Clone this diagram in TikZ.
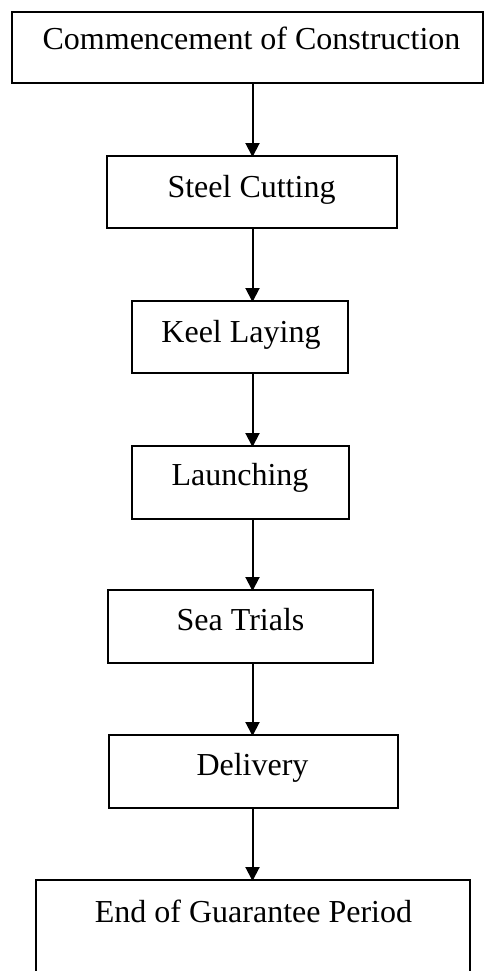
\documentclass[tikz,border=0pt]{standalone}
\usepackage{fontspec}
\setmainfont{Liberation Serif}
\usetikzlibrary{arrows.meta}

\tikzset{
  stagebox/.style={draw=black, line width=2pt, rectangle, inner sep=0pt, outer sep=0pt},
  openbox/.style={rectangle, inner sep=0pt, outer sep=0pt},
  stagetext/.style={anchor=base, inner sep=0pt, font=\fontsize{32}{38}\selectfont},
  flow/.style={line width=2pt, -{Triangle[length=14pt,width=14pt]}, shorten >=-1pt}
}

\begin{document}
\begin{tikzpicture}[x=1pt, y=-1pt]
  \useasboundingbox[fill=white] (0,0) rectangle (484,971);

  % stage boxes (centre, width, height)
  \node[stagebox, minimum width=471pt, minimum height=71pt] (b1) at (247.5,47.5) {};
  \node[stagebox, minimum width=290pt, minimum height=72pt] (b2) at (252,192) {};
  \node[stagebox, minimum width=216pt, minimum height=72pt] (b3) at (240,337) {};
  \node[stagebox, minimum width=217pt, minimum height=73pt] (b4) at (240.5,482.5) {};
  \node[stagebox, minimum width=265pt, minimum height=73pt] (b5) at (240.5,626.5) {};
  \node[stagebox, minimum width=289pt, minimum height=73pt] (b6) at (253.5,771.5) {};
  % last box runs past the lower edge
  \node[openbox, minimum width=434pt, minimum height=100pt] (b7) at (253,930) {};
  \draw[line width=2pt] (b7.south west) -- (b7.north west) -- (b7.north east) -- (b7.south east);

  % stage names
  \node[stagetext] (t1) at (251.5,50) {Commencement of Construction};
  \node[stagetext] (t2) at (251.5,197) {Steel Cutting};
  \node[stagetext] (t3) at (241,342) {Keel Laying};
  \node[stagetext] (t4) at (240,485) {Launching};
  \node[stagetext] (t5) at (240.5,630) {Sea Trials};
  \node[stagetext] (t6) at (252.5,775) {Delivery};
  \node[stagetext] (t7) at (253.5,922) {End of Guarantee Period};

  % connectors along one vertical line
  \coordinate (ax) at (252.5,0);
  \draw[flow] (b1.south -| ax) -- (b2.north -| ax);
  \draw[flow] (b2.south -| ax) -- (b3.north -| ax);
  \draw[flow] (b3.south -| ax) -- (b4.north -| ax);
  \draw[flow] (b4.south -| ax) -- (b5.north -| ax);
  \draw[flow] (b5.south -| ax) -- (b6.north -| ax);
  \draw[flow] (b6.south -| ax) -- (b7.north -| ax);
\end{tikzpicture}
\end{document}
